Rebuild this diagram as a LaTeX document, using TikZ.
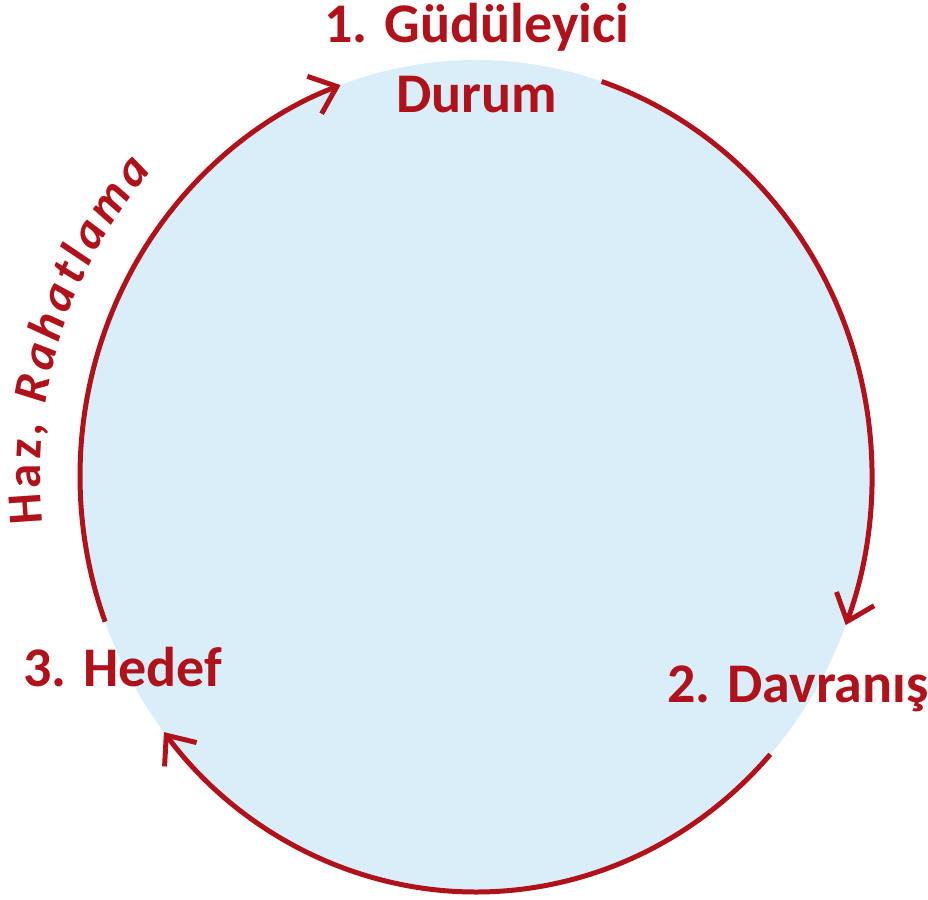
\documentclass[tikz,border=0pt]{standalone}
\usepackage{fontspec}
\setmainfont{Carlito}
\usetikzlibrary{arrows.meta,decorations.text}
\definecolor{cred}{RGB}{176,18,28}
\definecolor{cblue}{RGB}{218,238,250}
\begin{document}
\begin{tikzpicture}[x=1pt,y=1pt,
  lbl/.style={text=cred,font=\fontsize{56}{70}\selectfont\bfseries,inner sep=0pt},
  cyc/.style={draw=cred,line width=5pt},
  tipped/.style={-{Straight Barb[length=24pt,width=40pt]}}]
\useasboundingbox (0,0) rectangle (928,899);
\coordinate (C) at (476,423);
\fill[cblue] (C) ellipse[x radius=396,y radius=416];
% labels
\node[lbl,align=center,anchor=north] (n1) at (477,896) {1. Güdüleyici\\Durum};
\node[lbl,anchor=base west] (n2) at (667,196) {2. Davranış};
\node[lbl,anchor=base west] (n3) at (23,212) {3. Hedef};
% arc end points
\path (C) ++(71.5:396 and 416) coordinate (p1s);
\path (C) ++(-42:396 and 416) coordinate (p2s);
\path (C) ++(200.5:396 and 416) coordinate (p3s);
% cycle arcs
\draw[cyc,tipped] (p1s) arc[start angle=71.5,end angle=-21,x radius=396,y radius=416];
\draw[cyc,tipped] (p2s) arc[start angle=-42,end angle=-142,x radius=396,y radius=416];
\draw[cyc,tipped] (p3s) arc[start angle=200.5,end angle=110,x radius=396,y radius=416];
% curved label
\path (C) ++(186:436 and 456) coordinate (t0);
\path[decorate,decoration={text along path,text color=cred,text align=fit to path,
  text={|\fontsize{49}{56}\selectfont\bfseries|Haz, |\fontsize{49}{56}\selectfont\bfseries\itshape|Rahatlama}}]
  (t0) arc[start angle=186,end angle=138,x radius=436,y radius=456];
\end{tikzpicture}
\end{document}
